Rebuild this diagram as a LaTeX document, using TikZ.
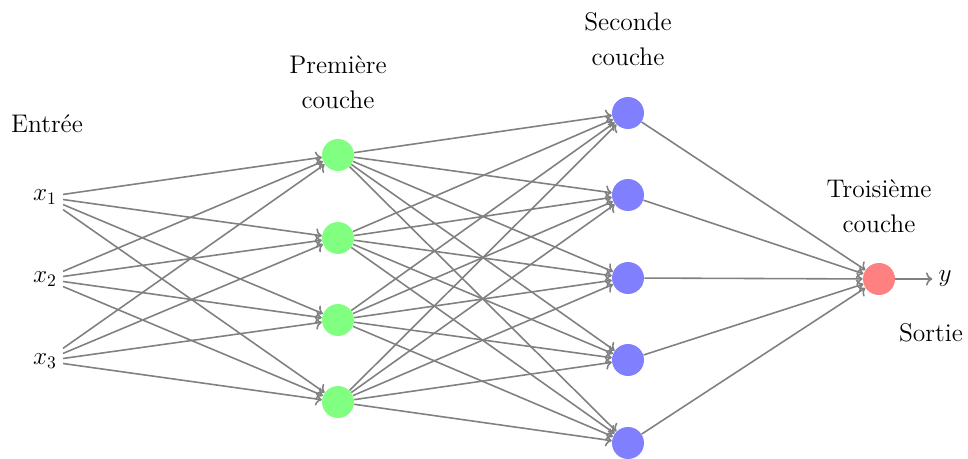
\documentclass[tikz,border=0pt]{standalone}
\usepackage{xcolor}
\usepackage{tikz}
\usetikzlibrary{arrows.meta, positioning}
\definecolor{nngreen}{RGB}{128,255,128}
\definecolor{nnblue}{RGB}{128,128,255}
\definecolor{nnred}{RGB}{255,128,128}
\definecolor{nngray}{RGB}{128,128,128}
\tikzset{
  neuron/.style={circle, minimum size=0.64cm, inner sep=0pt},
  greenneuron/.style={neuron, fill=nngreen},
  blueneuron/.style={neuron, fill=nnblue},
  redneuron/.style={neuron, fill=nnred},
  layertext/.style={align=center},
  arrow/.style={->, color=nngray, line width=0.9pt}
}
\begin{document}
\begin{tikzpicture}[x=0.02cm, y=-0.02cm, font=\fontsize{14.5}{20}\selectfont]
  \useasboundingbox (0,0) rectangle (968,459);

  % Inputs
  \node (x1) at (45,197) {$x_1$};
  \node (x2) at (45,279) {$x_2$};
  \node (x3) at (45,361) {$x_3$};

  % First layer
  \node[greenneuron] (h1) at (338,155) {};
  \node[greenneuron] (h2) at (338,238) {};
  \node[greenneuron] (h3) at (338,320) {};
  \node[greenneuron] (h4) at (338,402) {};

  % Second layer
  \node[blueneuron] (s1) at (628,113) {};
  \node[blueneuron] (s2) at (628,195) {};
  \node[blueneuron] (s3) at (628,278) {};
  \node[blueneuron] (s4) at (628,360) {};
  \node[blueneuron] (s5) at (628,443) {};

  % Output
  \node[redneuron] (o) at (879,279) {};
  \node (y) at (945,279) {$y$};

  % Layer captions
  \node[layertext] (tin) at (47,124) {Entrée};
  \node[layertext] (th) at (338,82) {Première\\couche};
  \node[layertext] (ts) at (628,39) {Seconde\\couche};
  \node[layertext] (to) at (879,206) {Troisième\\couche};
  \node[layertext] (tout) at (931,333) {Sortie};

  % Connections
  \foreach \i in {1,2,3}
    \foreach \j in {1,...,4}
      \draw[arrow] (x\i) -- (h\j);
  \foreach \i in {1,...,4}
    \foreach \j in {1,...,5}
      \draw[arrow] (h\i) -- (s\j);
  \foreach \i in {1,...,5}
    \draw[arrow] (s\i) -- (o);
  \draw[arrow] (o) -- (y);
\end{tikzpicture}
\end{document}
